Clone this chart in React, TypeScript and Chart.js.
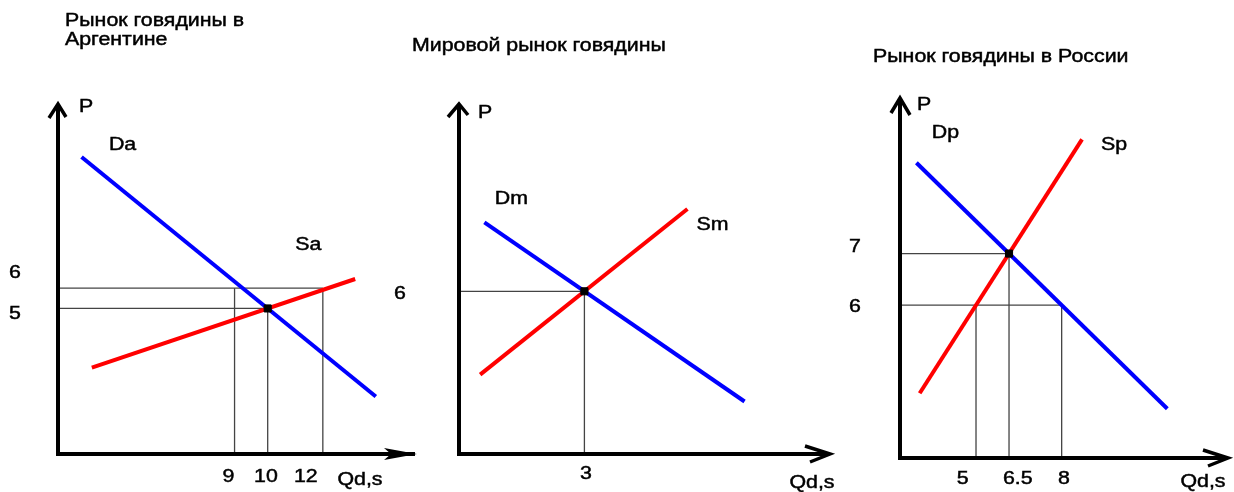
import React, { useEffect, useRef } from "react";
import { Chart, registerables } from "chart.js";

Chart.register(...registerables);

// ---------------- DATA ----------------
const WORLD_PRICE = 6;

// Рынок говядины в Аргентине
const argTitle = ["Рынок говядины в", "Аргентине"];
const argDemandQ = [3.8, 13.8];
const argDemandP = [11.7, 1.3];
const argSupplyQ = [4.15, 13.1];
const argSupplyP = [2.55, 6.4];
const argPriceTicks = [6, 5];
const argQtyTicks = [9, 10, 12];

// Мировой рынок говядины
const worldTitle = ["Мировой рынок говядины"];
const worldDemandQ = [0.6, 6.75];
const worldDemandP = [8.6, 1.95];
const worldSupplyQ = [0.5, 5.4];
const worldSupplyP = [2.95, 9.1];
const worldPriceTicks = [6];
const worldQtyTicks = [3];

// Рынок говядины в России
const rusTitle = ["Рынок говядины в России"];
const rusDemandQ = [3.5, 11.15];
const rusDemandP = [8.75, 4.0];
const rusSupplyQ = [3.6, 8.55];
const rusSupplyP = [4.3, 9.2];
const rusPriceTicks = [7, 6];
const rusQtyTicks = [5, 6.5, 8];

const AXIS_P = "P";
const AXIS_Q = "Qd,s";

// ---------------- STYLE / LAYOUT ----------------
const W = 1234;
const H = 492;
const FONT = '17.5px "Liberation Sans", Arial, sans-serif';
const STRETCH = 1.22;
const BLUE = "#0000ff";
const RED = "#ff0000";
const GUIDE = "#444444";

type Pt = { x: number; y: number };

type PanelSpec = {
  title: string[];
  titlePos: Pt[];
  demandName: string;
  supplyName: string;
  demandQ: number[];
  demandP: number[];
  supplyQ: number[];
  supplyP: number[];
  priceTicks: number[];
  qtyTicks: number[];
  worldGuides: boolean;
  snapToTicks: boolean;
  area: { left: number; top: number; right: number; bottom: number };
  xRange: [number, number];
  yRange: [number, number];
  pOffset: Pt;
  qOffset: Pt;
  yTickX: number;
  yTickNudge: number[];
  xTickY: number;
  xTickNudge: number[];
  demandLabel: { at: "start" | "end"; dx: number; dy: number };
  supplyLabel: { at: "start" | "end"; dx: number; dy: number };
  xArrow: "dart" | "chevron";
  yArrow: { l: Pt; r: Pt };
};

const panels: PanelSpec[] = [
  {
    title: argTitle,
    titlePos: [
      { x: 65, y: 26 },
      { x: 65, y: 45 },
    ],
    demandName: "Da",
    supplyName: "Sa",
    demandQ: argDemandQ,
    demandP: argDemandP,
    supplyQ: argSupplyQ,
    supplyP: argSupplyP,
    priceTicks: argPriceTicks,
    qtyTicks: argQtyTicks,
    worldGuides: true,
    snapToTicks: true,
    area: { left: 58, top: 104, right: 417, bottom: 454 },
    xRange: [3, 15.2],
    yRange: [-1.2, 14],
    pOffset: { x: 28, y: 3 },
    qOffset: { x: -57, y: 26 },
    yTickX: 15,
    yTickNudge: [-15, 3],
    xTickY: 477,
    xTickNudge: [-6, 2, -17],
    demandLabel: { at: "start", dx: 41, dy: -12 },
    supplyLabel: { at: "end", dx: -47, dy: -34 },
    xArrow: "dart",
    yArrow: { l: { x: -9, y: 14 }, r: { x: 8, y: 13 } },
  },
  {
    title: worldTitle,
    titlePos: [{ x: 412, y: 51 }],
    demandName: "Dm",
    supplyName: "Sm",
    demandQ: worldDemandQ,
    demandP: worldDemandP,
    supplyQ: worldSupplyQ,
    supplyP: worldSupplyP,
    priceTicks: worldPriceTicks,
    qtyTicks: worldQtyTicks,
    worldGuides: false,
    snapToTicks: false,
    area: { left: 459, top: 104, right: 830, bottom: 454 },
    xRange: [0, 8.77],
    yRange: [0, 13],
    pOffset: { x: 26, y: 9 },
    qOffset: { x: -18, y: 29 },
    yTickX: 400,
    yTickNudge: [2],
    xTickY: 474,
    xTickNudge: [0],
    demandLabel: { at: "start", dx: 27, dy: -23 },
    supplyLabel: { at: "end", dx: 25, dy: 16 },
    xArrow: "chevron",
    yArrow: { l: { x: -11, y: 13 }, r: { x: 9, y: 11 } },
  },
  {
    title: rusTitle,
    titlePos: [{ x: 873, y: 62 }],
    demandName: "Dp",
    supplyName: "Sp",
    demandQ: rusDemandQ,
    demandP: rusDemandP,
    supplyQ: rusSupplyQ,
    supplyP: rusSupplyP,
    priceTicks: rusPriceTicks,
    qtyTicks: rusQtyTicks,
    worldGuides: true,
    snapToTicks: false,
    area: { left: 900, top: 98, right: 1228, bottom: 458 },
    xRange: [3, 13],
    yRange: [3.05, 10],
    pOffset: { x: 24, y: 7 },
    qOffset: { x: -25, y: 24 },
    yTickX: 855,
    yTickNudge: [-6, 2],
    xTickY: 479,
    xTickNudge: [-3, 3, 0],
    demandLabel: { at: "start", dx: 29, dy: -30 },
    supplyLabel: { at: "end", dx: 32, dy: 6 },
    xArrow: "chevron",
    yArrow: { l: { x: -9, y: 15 }, r: { x: 10, y: 17 } },
  },
];

// ---------------- HELPERS ----------------
function qAtPrice(qs: number[], ps: number[], p: number): number {
  const t = (p - ps[0]) / (ps[1] - ps[0]);
  return qs[0] + t * (qs[1] - qs[0]);
}

function intersect(dq: number[], dp: number[], sq: number[], sp: number[]): Pt {
  const md = (dp[1] - dp[0]) / (dq[1] - dq[0]);
  const ms = (sp[1] - sp[0]) / (sq[1] - sq[0]);
  const q = (sp[0] - ms * sq[0] - dp[0] + md * dq[0]) / (md - ms);
  const p = dp[0] + md * (q - dq[0]);
  return { x: q, y: p };
}

function snap(v: number, ticks: number[]): number {
  let best = ticks[0];
  for (const t of ticks) if (Math.abs(t - v) < Math.abs(best - v)) best = t;
  return best;
}

function drawText(
  ctx: CanvasRenderingContext2D,
  s: string,
  x: number,
  y: number,
  align: CanvasTextAlign,
  baseline: CanvasTextBaseline
) {
  ctx.save();
  ctx.translate(x, y);
  ctx.scale(STRETCH, 1);
  ctx.font = FONT;
  ctx.fillStyle = "#000";
  ctx.strokeStyle = "#000";
  ctx.lineWidth = 0.45;
  ctx.textAlign = align;
  ctx.textBaseline = baseline;
  ctx.fillText(s, 0, 0);
  ctx.strokeText(s, 0, 0);
  ctx.restore();
}

function buildConfig(spec: PanelSpec): any {
  const [xmin, xmax] = spec.xRange;
  const [ymin, ymax] = spec.yRange;
  const demand = spec.demandQ.map((q, i) => ({ x: q, y: spec.demandP[i] }));
  const supply = spec.supplyQ.map((q, i) => ({ x: q, y: spec.supplyP[i] }));
  const eq = intersect(spec.demandQ, spec.demandP, spec.supplyQ, spec.supplyP);

  const guides: Pt[][] = [];
  guides.push([
    { x: xmin, y: eq.y },
    { x: eq.x, y: eq.y },
  ]);
  guides.push([
    { x: eq.x, y: eq.y },
    { x: eq.x, y: ymin },
  ]);
  if (spec.worldGuides) {
    let qd = qAtPrice(spec.demandQ, spec.demandP, WORLD_PRICE);
    let qs = qAtPrice(spec.supplyQ, spec.supplyP, WORLD_PRICE);
    if (spec.snapToTicks) {
      qd = snap(qd, spec.qtyTicks);
      qs = snap(qs, spec.qtyTicks);
    }
    guides.push([
      { x: xmin, y: WORLD_PRICE },
      { x: Math.max(qd, qs), y: WORLD_PRICE },
    ]);
    guides.push([
      { x: qd, y: WORLD_PRICE },
      { x: qd, y: ymin },
    ]);
    guides.push([
      { x: qs, y: WORLD_PRICE },
      { x: qs, y: ymin },
    ]);
  }

  const datasets: any[] = [
    {
      label: "equilibrium",
      data: [eq],
      pointStyle: "rect",
      pointRadius: 5,
      pointBackgroundColor: "#000",
      pointBorderColor: "#000",
      pointBorderWidth: 1,
      showLine: false,
      order: 0,
    },
    {
      label: spec.demandName,
      data: demand,
      showLine: true,
      borderColor: BLUE,
      borderWidth: 4,
      pointRadius: 0,
      fill: false,
      order: 1,
    },
    {
      label: spec.supplyName,
      data: supply,
      showLine: true,
      borderColor: RED,
      borderWidth: 4,
      pointRadius: 0,
      fill: false,
      order: 1,
    },
    ...guides.map((g, i) => ({
      label: "guide" + i,
      data: g,
      showLine: true,
      borderColor: GUIDE,
      borderWidth: 1.3,
      pointRadius: 0,
      fill: false,
      order: 2,
    })),
  ];

  const decor = {
    id: "decor",
    afterDatasetsDraw(chart: any) {
      const ctx: CanvasRenderingContext2D = chart.ctx;
      const xs = chart.scales.x;
      const ys = chart.scales.y;
      const a = spec.area;
      ctx.save();
      ctx.strokeStyle = "#000";
      ctx.lineWidth = 4;
      ctx.lineCap = "butt";
      ctx.lineJoin = "miter";
      ctx.beginPath();
      ctx.moveTo(a.left, a.bottom + 2);
      ctx.lineTo(a.left, a.top + 2);
      ctx.moveTo(a.left - 2, a.bottom);
      ctx.lineTo(a.right - 2, a.bottom);
      ctx.stroke();
      ctx.lineWidth = 3.5;
      ctx.beginPath();
      ctx.moveTo(a.left + spec.yArrow.l.x, a.top + spec.yArrow.l.y);
      ctx.lineTo(a.left, a.top);
      ctx.lineTo(a.left + spec.yArrow.r.x, a.top + spec.yArrow.r.y);
      ctx.stroke();
      if (spec.xArrow === "dart") {
        ctx.fillStyle = "#000";
        ctx.beginPath();
        ctx.moveTo(a.right, a.bottom);
        ctx.lineTo(a.right - 33, a.bottom - 6);
        ctx.lineTo(a.right - 26, a.bottom);
        ctx.lineTo(a.right - 33, a.bottom + 6);
        ctx.closePath();
        ctx.fill();
      } else {
        ctx.beginPath();
        ctx.moveTo(a.right - 25, a.bottom - 8);
        ctx.lineTo(a.right, a.bottom);
        ctx.lineTo(a.right - 20, a.bottom + 8);
        ctx.stroke();
      }
      ctx.restore();

      spec.title.forEach((t, i) => {
        drawText(ctx, t, spec.titlePos[i].x, spec.titlePos[i].y, "left", "alphabetic");
      });
      drawText(ctx, AXIS_P, a.left + spec.pOffset.x, a.top + spec.pOffset.y, "center", "middle");
      drawText(ctx, AXIS_Q, a.right + spec.qOffset.x, a.bottom + spec.qOffset.y, "center", "middle");
      spec.priceTicks.forEach((v, i) => {
        drawText(ctx, String(v), spec.yTickX, ys.getPixelForValue(v) + (spec.yTickNudge[i] || 0), "center", "middle");
      });
      spec.qtyTicks.forEach((v, i) => {
        drawText(ctx, String(v), xs.getPixelForValue(v) + (spec.xTickNudge[i] || 0), spec.xTickY, "center", "middle");
      });
      const dPt = spec.demandLabel.at === "start" ? demand[0] : demand[demand.length - 1];
      const sPt = spec.supplyLabel.at === "start" ? supply[0] : supply[supply.length - 1];
      drawText(
        ctx,
        spec.demandName,
        xs.getPixelForValue(dPt.x) + spec.demandLabel.dx,
        ys.getPixelForValue(dPt.y) + spec.demandLabel.dy,
        "center",
        "middle"
      );
      drawText(
        ctx,
        spec.supplyName,
        xs.getPixelForValue(sPt.x) + spec.supplyLabel.dx,
        ys.getPixelForValue(sPt.y) + spec.supplyLabel.dy,
        "center",
        "middle"
      );
    },
  };

  return {
    type: "scatter",
    data: { datasets },
    options: {
      responsive: false,
      maintainAspectRatio: false,
      animation: false,
      devicePixelRatio: 1,
      events: [],
      layout: {
        padding: {
          left: spec.area.left,
          top: spec.area.top,
          right: W - spec.area.right,
          bottom: H - spec.area.bottom,
        },
      },
      plugins: {
        legend: { display: false },
        tooltip: { enabled: false },
        title: { display: false },
      },
      scales: {
        x: { type: "linear", display: false, min: xmin, max: xmax },
        y: { type: "linear", display: false, min: ymin, max: ymax },
      },
    },
    plugins: [decor],
  };
}

function Panel({ spec }: { spec: PanelSpec }) {
  const ref = useRef<HTMLCanvasElement | null>(null);
  useEffect(() => {
    if (!ref.current) return;
    const chart = new Chart(ref.current, buildConfig(spec));
    return () => chart.destroy();
  }, [spec]);
  return (
    <canvas
      ref={ref}
      width={W}
      height={H}
      style={{ position: "absolute", left: 0, top: 0, width: W, height: H }}
    />
  );
}

export default function App() {
  return (
    <div
      style={{
        position: "absolute",
        left: 0,
        top: 0,
        width: W,
        height: H,
        background: "#fff",
        overflow: "hidden",
      }}
    >
      {panels.map((p, i) => (
        <Panel key={i} spec={p} />
      ))}
    </div>
  );
}
